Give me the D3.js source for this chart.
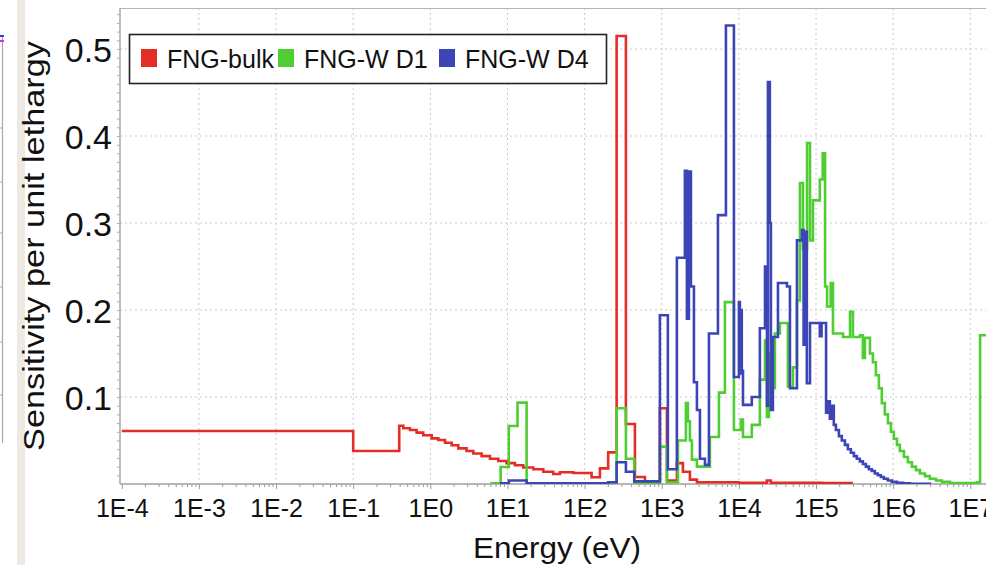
<!DOCTYPE html>
<html>
<head>
<meta charset="utf-8">
<script src="https://cdn.jsdelivr.net/npm/d3@7"></script>
<style>
  html, body { margin: 0; padding: 0; background: #fff; }
  svg { display: block; font-family: "Liberation Sans", Arial, sans-serif; }
</style>
</head>
<body>
<svg id="chart" width="986" height="565"></svg>
<script>
// Sensitivity per unit lethargy vs. neutron energy (step histograms, [lower bin edge eV, value])
const seriesNames = ["FNG-bulk", "FNG-W D1", "FNG-W D4"];
const seriesColors = ["#e42d24", "#4fce33", "#3d45b6"];

const bulk = [
  [1e-4, 0.061], [0.1, 0.038], [0.395, 0.067], [0.446, 0.064], [0.545, 0.062],
  [0.664, 0.059], [0.809, 0.056], [1.04, 0.0525], [1.27, 0.0506], [1.55, 0.0475],
  [1.89, 0.0445], [2.30, 0.041], [2.95, 0.038], [3.60, 0.035], [4.62, 0.032],
  [5.93, 0.029], [7.59, 0.0265], [9.75, 0.024], [12.5, 0.0215], [16.0, 0.019],
  [21.6, 0.017], [29.1, 0.014], [39.2, 0.0115], [47.8, 0.0135], [71.2, 0.0126],
  [123, 0.0077], [158, 0.018], [202, 0.0364], [260, 0.515], [343, 0.069],
  [449, 0.008], [605, 0.003], [946, 0.087], [1167, 0.004], [1574, 0.024],
  [1880, 0.014], [2318, 0.005], [2858, 0.002], [1.0e4, 0.0015], [2.3e4, 0.004],
  [2.6e4, 0.0015], [1.2e5, 0.001], [3e5, 0.001]
];

const wD1 = [
  [6, 0.0008], [8.15, 0.0195], [10.4, 0.0667], [13.5, 0.0935], [17.7, 0.0008],
  [202, 0.002], [260, 0.087], [343, 0.029], [440, 0.001], [946, 0.043],
  [1167, 0.002], [1622, 0.05], [2056, 0.093], [2180, 0.072], [2318, 0.05],
  [2460, 0.028], [2858, 0.02], [4210, 0.054], [5510, 0.105], [6590, 0.209],
  [8620, 0.062], [1.06e4, 0.074], [1.13e4, 0.054], [1.47e4, 0.068], [1.87e4, 0.12],
  [2.18e4, 0.165], [2.31e4, 0.077], [2.45e4, 0.15], [2.68e4, 0.11], [2.93e4, 0.173],
  [3.40e4, 0.185], [4.32e4, 0.112], [5.02e4, 0.134], [5.66e4, 0.211], [6.19e4, 0.346],
  [6.78e4, 0.27], [7.64e4, 0.392], [8.35e4, 0.28], [9.13e4, 0.326], [1.12e5, 0.35],
  [1.22e5, 0.38], [1.31e5, 0.227], [1.39e5, 0.204], [1.55e5, 0.231], [1.66e5, 0.173],
  [2.24e5, 0.169], [2.76e5, 0.198], [3.01e5, 0.169], [3.71e5, 0.171], [4.05e5, 0.145],
  [4.3e5, 0.168], [5.0e5, 0.15], [5.46e5, 0.14], [5.97e5, 0.125], [6.53e5, 0.11],
  [7.13e5, 0.093], [7.8e5, 0.08], [8.55e5, 0.07], [9.34e5, 0.06], [1.02e6, 0.052],
  [1.12e6, 0.045], [1.22e6, 0.038], [1.38e6, 0.031], [1.55e6, 0.025], [1.75e6, 0.02],
  [1.97e6, 0.016], [2.22e6, 0.012], [2.58e6, 0.009], [2.99e6, 0.006], [3.58e6, 0.004],
  [4.28e6, 0.0025], [5.46e6, 0.0012], [1.22e7, 0.002], [1.34e7, 0.171], [2e7, 0.171]
];

const wD4 = [
  [8, 0.0008], [10.4, 0.004], [17.7, 0.0008], [202, 0.002], [260, 0.025],
  [343, 0.014], [440, 0.003], [946, 0.194], [1200, 0.017], [1570, 0.26],
  [1995, 0.36], [2118, 0.19], [2249, 0.359], [2388, 0.227], [2612, 0.117],
  [2858, 0.085], [3126, 0.029], [3630, 0.022], [4090, 0.173], [5350, 0.309],
  [6790, 0.527], [8620, 0.123], [1.0e4, 0.209], [1.03e4, 0.127], [1.06e4, 0.2],
  [1.09e4, 0.13], [1.13e4, 0.091], [1.47e4, 0.1], [1.87e4, 0.179], [2.18e4, 0.25],
  [2.31e4, 0.09], [2.38e4, 0.462], [2.52e4, 0.3], [2.60e4, 0.085], [2.76e4, 0.169],
  [3.21e4, 0.231], [4.20e4, 0.227], [4.59e4, 0.11], [5.66e4, 0.28], [6.58e4, 0.292],
  [6.9e4, 0.16], [7.19e4, 0.29], [7.6e4, 0.116], [8.35e4, 0.185], [1.12e5, 0.17],
  [1.18e5, 0.185], [1.35e5, 0.082], [1.42e5, 0.095], [1.51e5, 0.075], [1.60e5, 0.09],
  [1.70e5, 0.068], [1.81e5, 0.062], [1.98e5, 0.055], [2.16e5, 0.05], [2.37e5, 0.045],
  [2.59e5, 0.04], [2.83e5, 0.036], [3.10e5, 0.032], [3.38e5, 0.029], [3.70e5, 0.026],
  [4.05e5, 0.023], [4.43e5, 0.02], [4.84e5, 0.017], [5.29e5, 0.015], [5.79e5, 0.012],
  [6.33e5, 0.01], [6.93e5, 0.008], [7.57e5, 0.006], [8.53e5, 0.004], [9.62e5, 0.0025],
  [1.12e6, 0.0015], [1.34e6, 0.0008], [1.65e6, 0.0003], [3e6, 0.0]
];

const xDecades = [1e-4, 1e-3, 1e-2, 1e-1, 1e0, 1e1, 1e2, 1e3, 1e4, 1e5, 1e6, 1e7];
const yTicks = [0.1, 0.2, 0.3, 0.4, 0.5];

const svg = d3.select("#chart");
const plot = { left: 120, right: 990, top: 8, bottom: 484 };

const x = d3.scaleLog().domain([1e-4, 1e7]).range([121.8, 970.3]);
const y = d3.scaleLinear().domain([0, 0.5]).range([484, 49]);

// neighbouring panel edge on the far left
svg.append("rect").attr("x", 17).attr("y", 0).attr("width", 8).attr("height", 565).attr("fill", "#eeeae3");
svg.append("line").attr("x1", 2.5).attr("x2", 2.5).attr("y1", 35).attr("y2", 443).attr("stroke", "#a8a8a8").attr("stroke-width", 1.2);
[128, 182, 233, 287, 342, 395].forEach(v => {
  svg.append("line").attr("x1", 0).attr("x2", 2.5).attr("y1", v).attr("y2", v).attr("stroke", "#a8a8a8");
});
svg.append("line").attr("x1", 0).attr("x2", 4).attr("y1", 36).attr("y2", 36).attr("stroke", "#2b3cf0").attr("stroke-width", 2);
svg.append("line").attr("x1", 0).attr("x2", 4).attr("y1", 41).attr("y2", 41).attr("stroke", "#ee22ee").attr("stroke-width", 2);

// grid
const grid = svg.append("g").attr("stroke", "#c9c9c9").attr("stroke-width", 1).attr("stroke-dasharray", "2,3");
xDecades.slice(1).forEach(d => {
  grid.append("line").attr("x1", x(d)).attr("x2", x(d)).attr("y1", plot.top).attr("y2", plot.bottom);
});
yTicks.forEach(d => {
  grid.append("line").attr("x1", plot.left).attr("x2", plot.right).attr("y1", y(d)).attr("y2", y(d));
});

// frame
svg.append("line").attr("x1", plot.left).attr("x2", plot.right).attr("y1", plot.top + 0.5).attr("y2", plot.top + 0.5).attr("stroke", "#b5b5b5").attr("stroke-width", 1.2);

// x axis
const minorX = [];
xDecades.slice(0, -1).forEach(d => { for (let k = 2; k <= 9; k++) minorX.push(d * k); });
minorX.push(2e7);

const xMinor = svg.append("g").attr("transform", `translate(0,${plot.bottom})`)
  .call(d3.axisBottom(x).tickValues(minorX).tickSize(3).tickFormat("").tickSizeOuter(0));
const xMajor = svg.append("g").attr("transform", `translate(0,${plot.bottom})`)
  .call(d3.axisBottom(x).tickValues(xDecades).tickSize(5).tickSizeOuter(0)
    .tickFormat(d => "1E" + Math.round(Math.log10(d))));
[xMinor, xMajor].forEach(g => {
  g.select(".domain").remove();
  g.selectAll(".tick line").attr("stroke", "#9a9a9a");
});
xMajor.selectAll(".tick text")
  .attr("y", 33).attr("dy", 0)
  .attr("font-size", 25).attr("fill", "#111")
  .attr("font-family", "Liberation Sans, Arial, sans-serif");

// y axis
const minorY = d3.range(1, 55).map(i => i / 100);
const yMinor = svg.append("g").attr("transform", `translate(${plot.left},0)`)
  .call(d3.axisLeft(y).tickValues(minorY).tickSize(3).tickFormat("").tickSizeOuter(0));
const yMajor = svg.append("g").attr("transform", `translate(${plot.left},0)`)
  .call(d3.axisLeft(y).tickValues(yTicks).tickSize(0).tickPadding(8).tickSizeOuter(0).tickFormat(d3.format(".1f")));
[yMinor, yMajor].forEach(g => {
  g.select(".domain").remove();
  g.selectAll(".tick line").attr("stroke", "#b0b0b0");
});
yMajor.selectAll(".tick text")
  .attr("font-size", 34).attr("fill", "#111").attr("dy", "0.36em")
  .attr("font-family", "Liberation Sans, Arial, sans-serif");

// axis lines
svg.append("line").attr("x1", plot.left).attr("x2", plot.right).attr("y1", plot.bottom).attr("y2", plot.bottom).attr("stroke", "#a0a0a0").attr("stroke-width", 1.5);
svg.append("line").attr("x1", plot.left).attr("x2", plot.left).attr("y1", plot.top).attr("y2", plot.bottom).attr("stroke", "#a8a8a8").attr("stroke-width", 1.5);

// axis titles
svg.append("text").attr("x", 557).attr("y", 558).attr("text-anchor", "middle")
  .attr("font-size", 30).attr("fill", "#111").attr("textLength", 168).attr("lengthAdjust", "spacingAndGlyphs")
  .text("Energy (eV)");
svg.append("text").attr("transform", "translate(44,246) rotate(-90)").attr("text-anchor", "middle")
  .attr("font-size", 30).attr("fill", "#111").attr("textLength", 410).attr("lengthAdjust", "spacingAndGlyphs")
  .text("Sensitivity per unit lethargy");

// series
svg.append("clipPath").attr("id", "plotClip").append("rect")
  .attr("x", plot.left).attr("y", plot.top).attr("width", plot.right - plot.left).attr("height", plot.bottom - plot.top);

const line = d3.line().x(d => x(d[0])).y(d => y(d[1])).curve(d3.curveStepAfter);
const lines = svg.append("g").attr("clip-path", "url(#plotClip)");
[bulk, wD1, wD4].forEach((s, i) => {
  lines.append("path").datum(s).attr("d", line)
    .attr("fill", "none").attr("stroke", seriesColors[i])
    .attr("stroke-width", 2.6).attr("stroke-linejoin", "miter");
});

// legend
const lg = svg.append("g");
lg.append("rect").attr("x", 129.5).attr("y", 34.5).attr("width", 477).attr("height", 49)
  .attr("fill", "#fff").attr("stroke", "#222").attr("stroke-width", 1.6);
const legendX = [141, 278, 439];
seriesNames.forEach((n, i) => {
  lg.append("rect").attr("x", legendX[i]).attr("y", 49).attr("width", 16).attr("height", 18).attr("fill", seriesColors[i]);
  lg.append("text").attr("x", legendX[i] + 26).attr("y", 68).attr("font-size", 25).attr("fill", "#111").text(n);
});
</script>
</body>
</html>
